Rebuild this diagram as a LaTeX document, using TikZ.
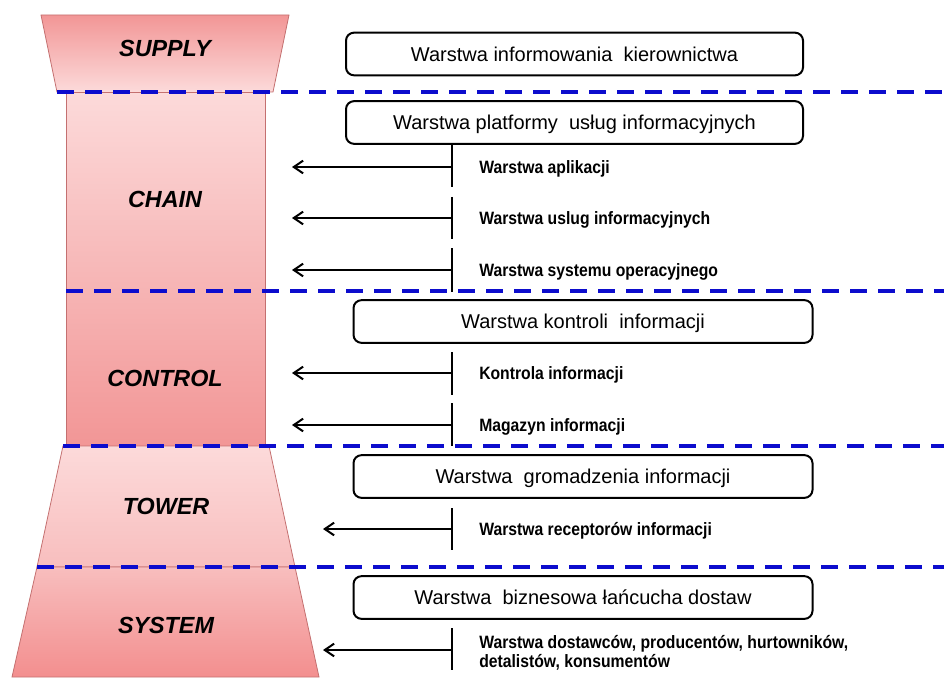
\documentclass[tikz,border=0pt]{standalone}
\usepackage{fontspec}
\setmainfont{Liberation Sans}
\newfontfamily\subfont[FakeStretch=0.88]{Liberation Sans}
\usetikzlibrary{arrows.meta,positioning,calc}
\definecolor{towerlight}{RGB}{252,218,218}
\definecolor{towermid}{RGB}{248,190,190}
\definecolor{towerdark}{RGB}{242,150,150}
\definecolor{towerline}{RGB}{196,112,112}
\definecolor{sepblue}{RGB}{12,12,205}

\begin{document}
\begin{tikzpicture}[x=0.75pt, y=-0.75pt,
  part/.style={draw=towerline, line width=0.6pt},
  title/.style={font=\fontsize{17.5}{20}\selectfont\bfseries\itshape, inner sep=0pt},
  layer/.style={draw, line width=1.5pt, rounded corners=6pt, minimum width=342.75pt, minimum height=32pt, inner sep=0pt, text height=10.7pt, text depth=0pt, font=\fontsize{15}{18}\selectfont},
  wide/.style={layer, minimum width=344.25pt},
  sub/.style={anchor=west, inner sep=0pt, text height=9.5pt, text depth=0pt, font=\subfont\fontsize{13.4}{14}\selectfont\bfseries},
  sep/.style={draw=sepblue, line width=3.4pt, dash pattern=on 12.75pt off 8.25pt},
  tick/.style={line width=1.5pt},
  arr/.style={-{Straight Barb[length=7pt, width=9.5pt]}, line width=1.5pt}
]
\useasboundingbox (0,0) rectangle (944,677);

\draw[part, top color=towerdark, bottom color=towerlight] (41,15) -- (289,15) -- (273,92) -- (57,92) -- cycle;
\draw[part, top color=towerlight, bottom color=towerdark] (66,92) rectangle (265,446);
\draw[part, top color=towerlight, bottom color=towermid] (63,446) -- (269,446) -- (295,567) -- (37,567) -- cycle;
\draw[part, top color=towermid, bottom color=towerdark!95!red] (37,567) -- (295,567) -- (319,677) -- (12,677) -- cycle;

\node[title] (supply) at (165,48) {SUPPLY};
\node[title] (chain) at (165,199) {CHAIN};
\node[title] (control) at (165,378) {CONTROL};
\node[title] (tower) at (166,506) {TOWER};
\node[title] (system) at (166,625) {SYSTEM};

\draw[sep] (57,92) -- (944,92);
\draw[sep] (66,291) -- (944,291);
\draw[sep] (63,446) -- (944,446);
\draw[sep] (37,567) -- (944,567);

\node[layer] (kier) at (574.5,54) {Warstwa informowania\ \ kierownictwa};
\node[layer] (platf) at (574.5,122.5) {Warstwa platformy\ \ usług informacyjnych};
\node[wide] (kontr) at (583,321.5) {Warstwa kontroli\ \ informacji};
\node[wide] (groma) at (583,476.5) {Warstwa\ \ gromadzenia informacji};
\node[wide] (bizn) at (583,597.5) {Warstwa\ \ biznesowa łańcucha dostaw};

\node[sub] (aplik) at (479,167) {Warstwa aplikacji};
\node[sub] (uslug) at (479,218) {Warstwa uslug informacyjnych};
\node[sub] (syst) at (479,270) {Warstwa systemu operacyjnego};
\node[sub] (kontrola) at (479,373) {Kontrola informacji};
\node[sub] (magazyn) at (479,425) {Magazyn informacji};
\node[sub] (recep) at (479,529) {Warstwa receptorów informacji};
\node[sub, anchor=north west, text height=, text depth=, align=left] (dostaw) at (479,635) {Warstwa dostawców, producentów, hurtowników,\\detalistów, konsumentów};

\foreach \ya/\yb in {144/187, 197/239, 248/292, 352/395, 403/446, 508/550, 628/670}
  \draw[tick] (452,\ya) -- (452,\yb);

\foreach \n/\y/\xe in {1/167/292, 2/218/292, 3/270/292, 4/373/292, 5/425/292, 6/529/323, 7/650/323} {
  \coordinate (s\n) at (452,\y);
  \coordinate (e\n) at (\xe,\y);
  \draw[arr] (s\n) -- (e\n);
}
\end{tikzpicture}
\end{document}
